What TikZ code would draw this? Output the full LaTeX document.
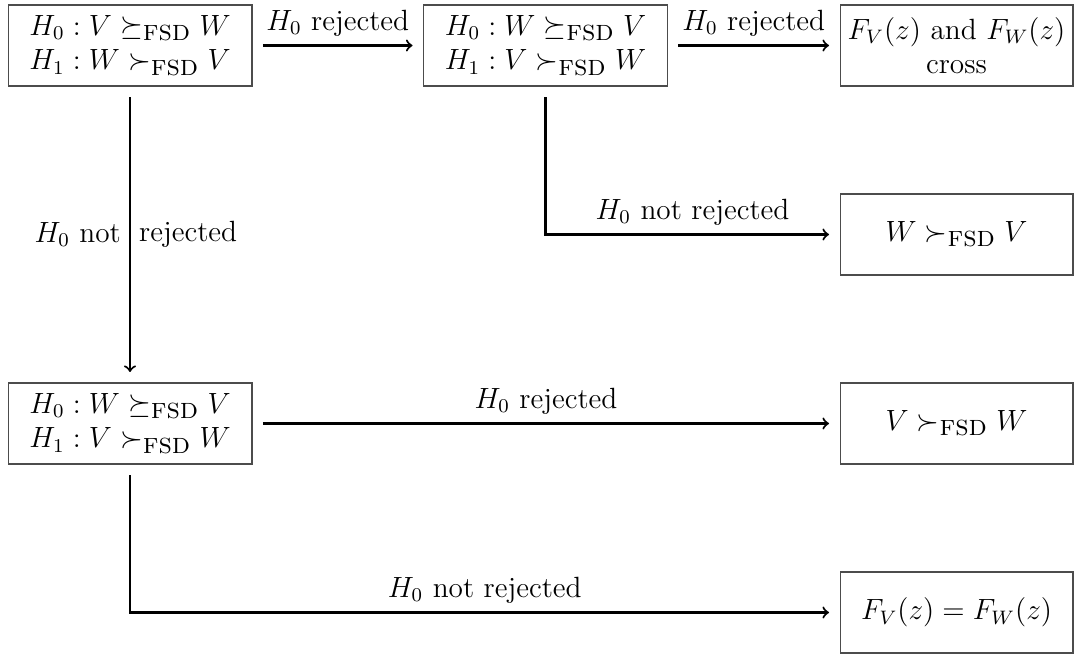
\documentclass[tikz,border=0pt]{standalone}
\usepackage{amsmath}
\begin{document}
\begin{tikzpicture}[x=0.41pt,y=-0.41pt,font=\large,
  box/.style={draw=black!70,line width=0.45pt,align=center,minimum height=33.2pt,inner sep=2pt},
  boxl/.style={box,minimum width=100pt},
  boxr/.style={box,minimum width=95.5pt},
  conn/.style={draw=black,line width=0.85pt,->,shorten >=4.3pt,shorten <=4.3pt}]
\useasboundingbox (0,0) rectangle (1078,655);
\def\fsd{\mbox{\textsc{fsd}}}
\node[boxl] (A) at (130,45.5) {$H_0 : V \succeq_{\fsd} W$\\$H_1 : W \succ_{\fsd} V$};
\node[boxl] (B) at (545.5,45.5) {$H_0 : W \succeq_{\fsd} V$\\$H_1 : V \succ_{\fsd} W$};
\node[boxr] (C) at (956.5,45.5) {$F_V(z)$ and $F_W(z)$\\cross};
\node[boxr] (D) at (956.5,234.5) {$W \succ_{\fsd} V$};
\node[boxl] (E) at (130,423.5) {$H_0 : W \succeq_{\fsd} V$\\$H_1 : V \succ_{\fsd} W$};
\node[boxr] (F) at (956.5,423.5) {$V \succ_{\fsd} W$};
\node[boxr] (G) at (956.5,612.5) {$F_V(z) = F_W(z)$};
\draw[conn] (A) -- node[above] {$H_0$ rejected} (B);
\draw[conn] (B) -- node[above] {$H_0$ rejected} (C);
\draw[conn] (A) -- node[left] {$H_0$ not} node[right] {rejected} (E);
\draw[conn] (B.south) |- node[pos=0.75,above] {$H_0$ not rejected} (D.west);
\draw[conn] (E) -- node[above] {$H_0$ rejected} (F);
\draw[conn] (E.south) |- node[pos=0.75,above] {$H_0$ not rejected} (G.west);
\end{tikzpicture}
\end{document}
